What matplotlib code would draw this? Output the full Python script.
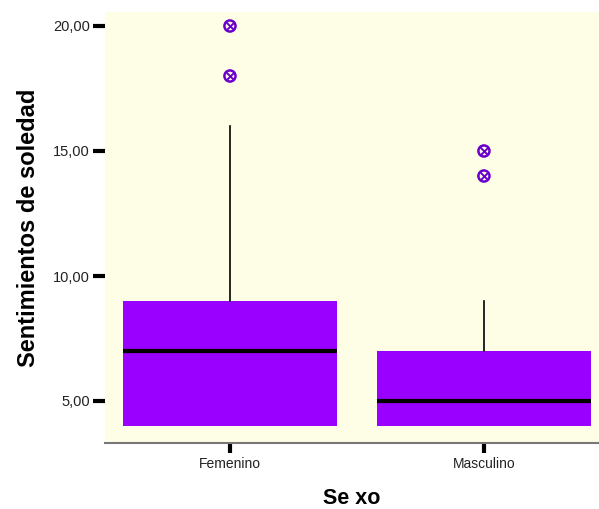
import matplotlib.pyplot as plt

groups = ["Femenino", "Masculino"]
q1 = [4, 4]
medians = [7, 5]
q3 = [9, 7]
whislo = [4, 4]
whishi = [16, 9]
fliers = [[18, 20], [14, 15]]

stats = []
for i in range(len(groups)):
    stats.append(dict(label=groups[i], q1=q1[i], med=medians[i], q3=q3[i],
                      whislo=whislo[i], whishi=whishi[i], fliers=[]))

fig = plt.figure(figsize=(5.99, 5.09), dpi=100)
ax = fig.add_axes([105 / 599, 1 - 443 / 509, 494 / 599, 431 / 509])
ax.set_facecolor('#FEFEE6')

pos = [1, 2]
ax.bxp(stats, positions=pos, widths=0.846, patch_artist=True, showcaps=False,
       boxprops=dict(facecolor='#9900FF', edgecolor='#9900FF', linewidth=0),
       medianprops=dict(color='black', linewidth=3),
       whiskerprops=dict(color='black', linewidth=1.2))

for p, f in zip(pos, fliers):
    ax.scatter([p] * len(f), f, s=64, facecolors='none', edgecolors='#6A00CC', linewidths=1.8, zorder=5)
    ax.scatter([p] * len(f), f, s=30, marker='x', color='#6A00CC', linewidths=1.4, zorder=5)

ax.set_xlim(0.508, 2.453)
ax.set_ylim(3.32, 20.56)
ax.set_yticks([5, 10, 15, 20])
ax.set_yticklabels(['5,00', '10,00', '15,00', '20,00'], fontsize=10.5, family='Liberation Sans', color='#222222')
ax.set_xticks(pos)
ax.set_xticklabels(groups, fontsize=10, family='Liberation Sans', color='#222222')
ax.tick_params(axis='y', length=9, width=3, pad=2)
ax.tick_params(axis='x', length=7, width=3, pad=3)

for s in ['top', 'right', 'left']:
    ax.spines[s].set_visible(False)
ax.spines['bottom'].set_color('#777777')
ax.spines['bottom'].set_linewidth(1.5)

ax.set_ylabel('Sentimientos de soledad', fontsize=17, fontweight='bold', family='Liberation Sans', labelpad=9)
ax.set_xlabel('Se xo', fontsize=15.5, fontweight='bold', family='Liberation Sans', labelpad=12)

fig.savefig('out.png', dpi=100)
